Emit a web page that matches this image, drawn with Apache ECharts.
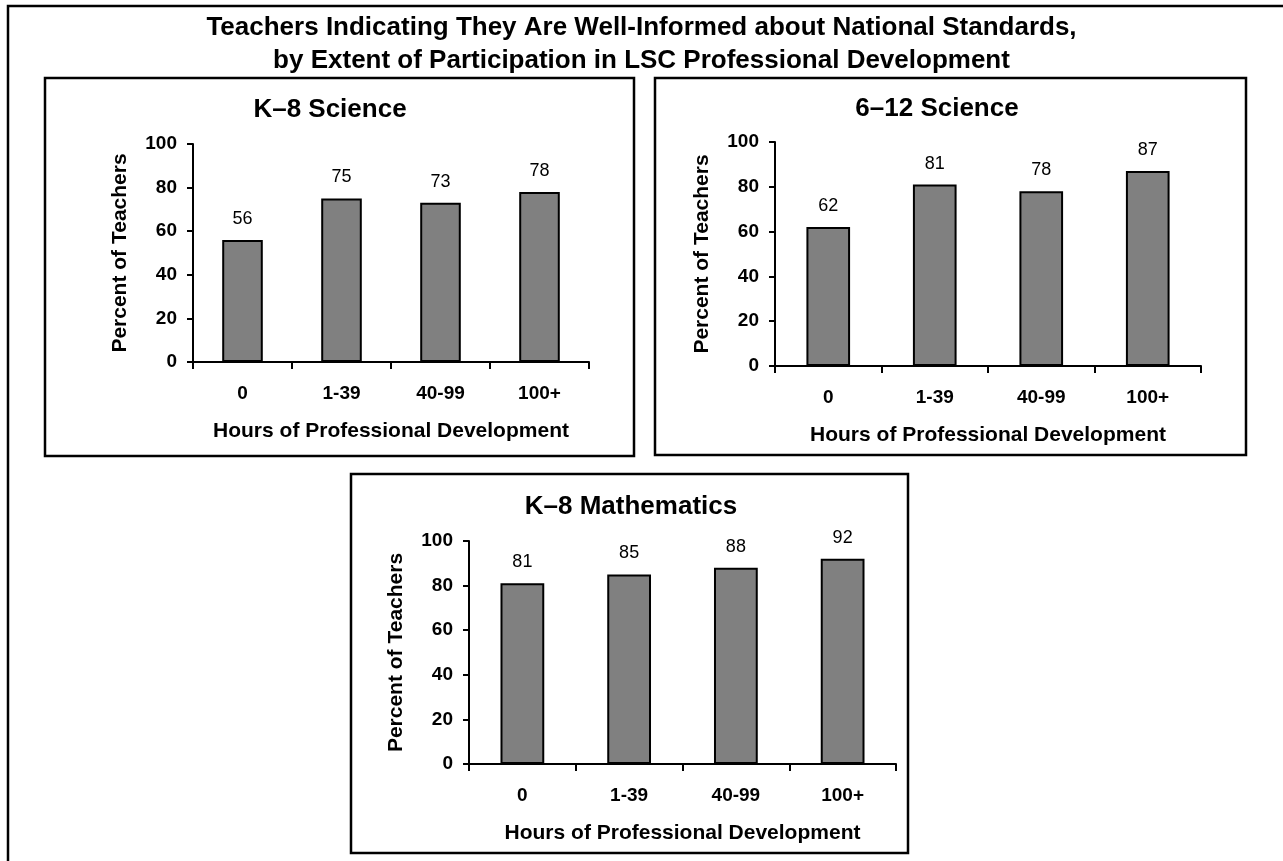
<!DOCTYPE html>
<html>
<head>
<meta charset="utf-8">
<script src="https://cdn.jsdelivr.net/npm/echarts@6/dist/echarts.min.js"></script>
<style>
  html, body { margin: 0; padding: 0; background: #fff; }
  #chart { width: 1283px; height: 861px; }
</style>
</head>
<body>
<div id="chart"></div>
<script>
  // data
  let categories = ['0', '1-39', '40-99', '100+']
  let k8Science = [56, 75, 73, 78]
  let science612 = [62, 81, 78, 87]
  let k8Math = [81, 85, 88, 92]
  let panelTitles = ['K\u20138 Science', '6\u201312 Science', 'K\u20138 Mathematics']
  let yMin = 0, yMax = 100, yStep = 20

  let font = 'Liberation Sans, Arial, sans-serif'

  // grid placement of each panel
  let grids = [
    { left: 193, top: 144, width: 396, height: 218 },
    { left: 775, top: 142, width: 426, height: 224 },
    { left: 469, top: 541, width: 427, height: 223 }
  ]
  let boxes = [
    { x: 45, y: 78, w: 589, h: 378 },
    { x: 655, y: 78, w: 591, h: 377 },
    { x: 351, y: 474, w: 557, h: 379 }
  ]
  let titlePos = [[330, 110], [937, 109], [631, 507]]

  let myChart = echarts.init(document.getElementById('chart'), null, { renderer: 'canvas' })

  let xAxes = [], yAxes = [], series = [], graphics = []
  let allData = [k8Science, science612, k8Math]

  // outer frame, runs off the right and bottom edge
  graphics.push({
    type: 'rect', z: 0, silent: true,
    shape: { x: 8, y: 6, width: 1320, height: 900 },
    style: { fill: 'none', stroke: '#000', lineWidth: 2.5 }
  })

  allData.forEach(function(values, i) {
    let b = boxes[i]
    graphics.push({
      type: 'rect', z: 0, silent: true,
      shape: { x: b.x, y: b.y, width: b.w, height: b.h },
      style: { fill: '#fff', stroke: '#000', lineWidth: 2.5 }
    })
    graphics.push({
      type: 'text', z: 1, silent: true,
      x: titlePos[i][0], y: titlePos[i][1],
      style: {
        text: panelTitles[i], fill: '#000',
        font: 'bold 26px ' + font,
        textAlign: 'center', textVerticalAlign: 'middle'
      }
    })
    xAxes.push({
      type: 'category',
      gridIndex: i,
      data: categories,
      name: 'Hours of Professional Development',
      nameLocation: 'middle',
      nameGap: 59,
      nameTextStyle: { fontFamily: font, fontWeight: 'bold', fontSize: 21, color: '#000' },
      axisLine: { lineStyle: { color: '#000', width: 2 } },
      axisTick: { show: true, inside: false, length: 7, lineStyle: { color: '#000', width: 2 } },
      axisLabel: { margin: 22, fontFamily: font, fontWeight: 'bold', fontSize: 19, color: '#000' },
      splitLine: { show: false }
    })
    yAxes.push({
      type: 'value',
      gridIndex: i,
      min: yMin,
      max: yMax,
      interval: yStep,
      name: 'Percent of Teachers',
      nameLocation: 'middle',
      nameRotate: 90,
      nameGap: 62,
      nameTextStyle: { fontFamily: font, fontWeight: 'bold', fontSize: 21, color: '#000' },
      axisLine: { show: true, lineStyle: { color: '#000', width: 2 } },
      axisTick: { show: true, length: 6, lineStyle: { color: '#000', width: 2 } },
      axisLabel: { margin: 16, fontFamily: font, fontWeight: 'bold', fontSize: 19, color: '#000' },
      splitLine: { show: false }
    })
    series.push({
      name: panelTitles[i],
      type: 'bar',
      xAxisIndex: i,
      yAxisIndex: i,
      barWidth: '41%',
      data: values,
      itemStyle: { color: '#808080', borderColor: '#000', borderWidth: 2 },
      label: {
        show: true, position: 'top', distance: 12,
        fontFamily: font, fontSize: 18, color: '#000'
      },
      z: 3
    })
  })

  let option = {
    animation: false,
    backgroundColor: '#fff',
    title: {
      text: 'Teachers Indicating They Are Well-Informed about National Standards,\nby Extent of Participation in LSC Professional Development',
      left: 'center',
      top: 6,
      textStyle: { fontFamily: font, fontWeight: 'bold', fontSize: 26, lineHeight: 33, color: '#000' }
    },
    grid: grids.map(function(g) {
      return { left: g.left, top: g.top, width: g.width, height: g.height, containLabel: false }
    }),
    xAxis: xAxes,
    yAxis: yAxes,
    series: series,
    graphic: { elements: graphics }
  }
  myChart.setOption(option)
</script>
</body>
</html>
